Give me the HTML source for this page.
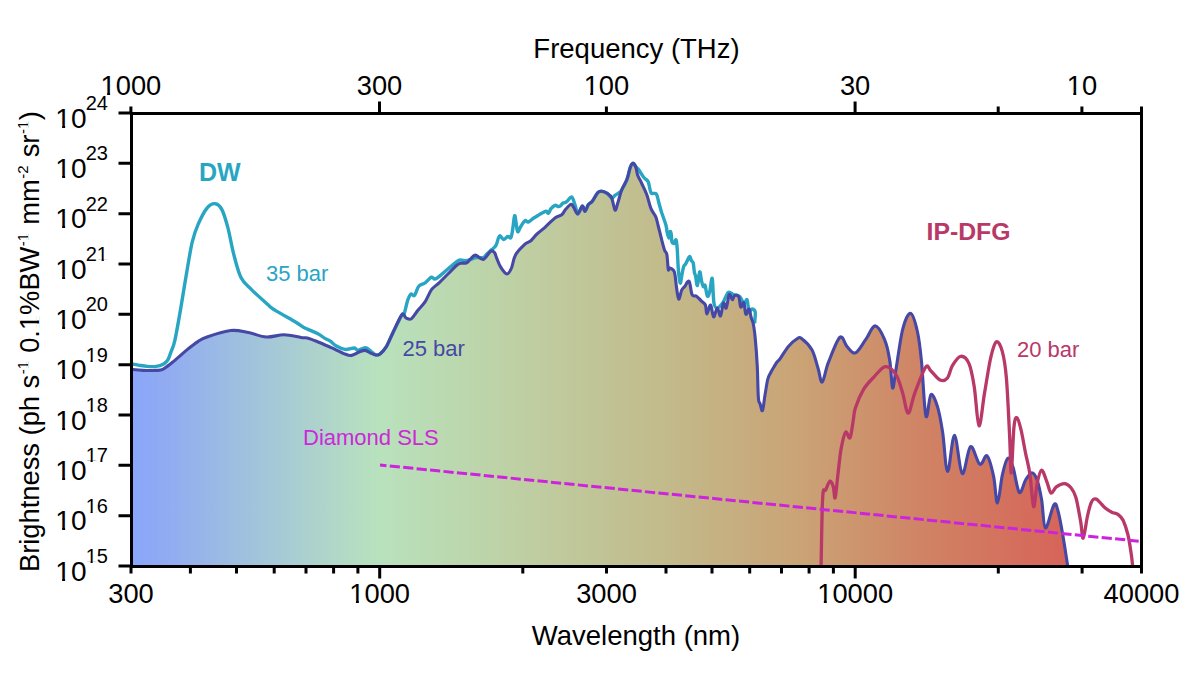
<!DOCTYPE html>
<html><head><meta charset="utf-8"><style>
html,body{margin:0;padding:0;background:#fff;width:1200px;height:675px;overflow:hidden}
svg{display:block;font-family:"Liberation Sans",sans-serif}
</style></head><body>
<svg width="1200" height="675" viewBox="0 0 1200 675">
<defs><linearGradient id="g" x1="131" y1="0" x2="1141" y2="0" gradientUnits="userSpaceOnUse">
<stop offset="0" stop-color="#88a6fa"/>
<stop offset="0.03" stop-color="#90aaf3"/>
<stop offset="0.128" stop-color="#a3c5da"/>
<stop offset="0.245" stop-color="#b8e2bd"/>
<stop offset="0.38" stop-color="#bed0a4"/>
<stop offset="0.524" stop-color="#c2bb8c"/>
<stop offset="0.663" stop-color="#caa375"/>
<stop offset="0.79" stop-color="#d08264"/>
<stop offset="0.91" stop-color="#d6675a"/>
<stop offset="1" stop-color="#d85a50"/>
</linearGradient>
<clipPath id="clip"><rect x="131" y="113" width="1010.5" height="453"/></clipPath></defs>
<rect width="1200" height="675" fill="#fff"/>
<g clip-path="url(#clip)">
<path d="M131,369.3 C133,369.5 138.6,370.2 142.8,370.4 C147,370.6 152.7,370.6 156.1,370.4 C159.5,370.2 160.2,370.7 163.2,369.1 C166.2,367.6 169.9,364.4 173.9,361.1 C177.9,357.9 183.2,352.9 187.2,349.6 C191.2,346.4 194.6,343.7 197.9,341.6 C201.2,339.5 201.5,338.9 207,337 C212.5,335.1 223.8,331.2 230.7,330.5 C237.6,329.8 242.6,331.5 248.5,332.6 C254.4,333.7 260.4,336.6 266.3,337 C272.2,337.4 278.3,334.6 284.1,334.7 C289.9,334.8 297.1,336.9 301,337.5 C304.9,338.1 304.6,337.3 307.4,338 C310.1,338.7 313.5,340.1 317.5,341.7 C321.5,343.3 326.7,345.6 331.3,347.6 C335.9,349.7 341.6,352.7 345,354 C348.4,355.3 349.1,355.8 351.5,355.4 C353.9,355 357.4,352.5 359.7,351.7 C362,350.9 363.4,350.2 365.2,350.4 C367,350.6 368.9,352.3 370.7,353.1 C372.5,353.9 374.6,354.9 376.2,355 C377.8,355.1 378.3,355.4 380,354 C381.7,352.6 384.2,350.2 386.3,346.7 C388.4,343.2 390.2,338.3 392.8,333 C395.4,327.7 399.6,317.4 401.9,314.9 C404.1,312.4 404.7,317.5 406.3,318.1 C407.9,318.7 409.5,320 411.4,318.7 C413.3,317.4 415.4,313.3 417.7,310.5 C420,307.7 422.9,305.2 425.2,301.7 C427.5,298.2 429.2,292.8 431.5,289.7 C433.8,286.6 436.4,285.4 439.1,282.8 C441.8,280.2 445,276.9 447.9,274 C450.8,271.1 454.6,267 456.7,265.2 C458.8,263.4 458.8,263.7 460.5,263.3 C462.2,262.9 465.1,263.4 466.8,262.7 C468.5,262 469.1,260.2 470.6,258.9 C472.1,257.6 473.5,255 475.6,255.1 C477.7,255.2 480.7,260.1 483.2,259.5 C485.7,258.9 488.8,252.5 490.7,251.3 C492.6,250.2 493.5,251.5 494.5,252.6 C495.5,253.7 495.6,255.5 496.6,257.9 C497.6,260.3 499,264.5 500.7,267.2 C502.4,269.9 505.2,273.9 507,274 C508.8,274.1 510.1,271.2 511.5,268 C512.9,264.8 513.2,258.9 515.5,254.9 C517.8,250.9 522.4,246.6 525,244.2 C527.6,241.8 528.9,242.4 530.9,240.7 C532.9,239 534.6,236.2 537,234 C539.4,231.8 542,230 545,227.3 C548,224.6 552.2,220.1 555,218 C557.8,215.9 559.9,216.1 561.7,214.7 C563.5,213.2 564.2,211 565.7,209.3 C567.2,207.6 569.7,204.6 571,204.3 C572.3,204 572.6,205.7 573.7,207.3 C574.8,208.9 576.3,214.2 577.7,214 C579.1,213.8 581.1,206.4 582.3,206 C583.5,205.6 584,211.5 585,211.3 C586,211.1 587.1,206.4 588.3,204.7 C589.5,203 590.7,203.3 592.3,201.3 C593.9,199.3 596.1,194.4 597.7,192.7 C599.3,191 600.2,191.2 601.7,191.3 C603.2,191.4 605.3,192.2 607,193.3 C608.7,194.4 610.4,195.2 611.7,198 C613,200.8 614,209.1 615,210 C616,210.9 616.6,206.6 617.7,203.3 C618.8,200 620.2,194 621.7,190 C623.2,186 625.6,183.1 627,179.3 C628.4,175.5 629.3,170 630.3,167.3 C631.3,164.6 632.1,163.4 633,163.3 C633.9,163.2 634.9,164.7 635.7,166.7 C636.5,168.7 636.7,172.5 637.7,175.3 C638.7,178.1 640.2,180 641.7,183.3 C643.2,186.6 645.5,191.1 647,195.3 C648.5,199.5 649.5,205.1 651,208.7 C652.5,212.3 654.5,214 655.7,216.7 C656.9,219.4 657,221.2 658,225 C659,228.8 660.6,235.6 661.7,239.8 C662.8,244 663.7,247.7 664.6,250.2 C665.5,252.7 666.3,251.5 666.9,254.7 C667.5,257.9 667.8,267.3 668.3,269.5 C668.8,271.7 668.8,267.6 669.8,268 C670.8,268.4 673.2,268.5 674.3,271.7 C675.4,274.9 675.8,282.7 676.5,287.3 C677.2,291.9 677.8,298.6 678.7,299.1 C679.6,299.6 680.7,292.3 681.7,290.2 C682.7,288.1 683.5,288 684.7,286.5 C685.9,285 687.9,279.9 689.1,281.3 C690.3,282.7 690.9,292.2 692.1,294.7 C693.3,297.2 695,295.2 696.5,296.2 C698,297.2 699.5,299.1 701,300.6 C702.5,302.1 704.4,302.8 705.4,305 C706.4,307.2 706,314 706.9,314 C707.8,314 709.5,304.5 710.6,305 C711.7,305.5 712.5,316.4 713.6,316.9 C714.7,317.4 716.1,308.1 717.3,308 C718.4,307.9 719.5,316.8 720.5,316 C721.5,315.2 722.5,304.3 723.5,303 C724.5,301.7 725.2,309.4 726.2,308 C727.2,306.6 728.3,295.9 729.3,294.5 C730.3,293.1 731.5,299.5 732.4,299.7 C733.3,299.9 733.5,296.1 734.5,295.6 C735.5,295.1 737.7,294.7 738.7,296.6 C739.7,298.5 739.9,306 740.7,307 C741.6,308 742.9,301.6 743.8,302.8 C744.7,304 745,313.2 745.9,314.2 C746.8,315.2 748.1,308.5 749,309 C749.9,309.5 750.4,314.9 751.1,317.3 C751.8,319.7 752.5,320.1 753.2,323.5 C753.9,326.9 754.5,330.8 755.2,338 C755.9,345.2 756.8,357 757.3,367 C757.8,377 757.9,391.9 758.4,398 C758.9,404.1 759.3,401.4 760,403.5 C760.7,405.6 761.7,412 762.5,410.6 C763.3,409.2 764.1,400.2 765,395 C765.9,389.8 766.8,383.2 767.7,379.5 C768.6,375.8 769.5,375.1 770.5,373 C771.5,370.9 772.8,368.8 773.9,367 C775,365.2 776,363.4 777,362 C778,360.6 778.1,361.4 780,358.8 C781.9,356.2 785.6,349.7 788.4,346.4 C791.2,343.1 794.5,340.3 796.7,339 C798.9,337.7 799,336.6 801.5,338.4 C804,340.2 809.1,344.8 811.9,349.8 C814.7,354.8 816.4,363.1 818.1,368.5 C819.8,373.9 820.5,383.1 822.2,382 C823.9,380.9 825.5,369.6 828.5,362.2 C831.5,354.8 836.8,339.9 839.9,337.3 C843,334.7 844.5,344.1 847.1,346.7 C849.7,349.3 852.3,354.1 855.4,352.9 C858.5,351.7 862.5,343.9 865.8,339.4 C869.1,334.9 872,325.9 875.1,325.9 C878.2,325.9 882.1,333.7 884.5,339.4 C886.9,345.1 888.4,352.1 889.7,360.2 C891.1,368.3 891.6,386.5 892.6,388 C893.6,389.5 894.3,379.1 896,369.3 C897.7,359.5 900.3,338.6 902.7,329.3 C905.1,320 908.1,312.9 910.6,313.4 C913.1,313.8 915.7,324 917.5,332 C919.3,340 920.1,347.3 921.5,361.3 C922.9,375.3 924.3,410.4 925.9,416 C927.5,421.6 929,396.2 930.9,394.6 C932.8,393.1 935.5,400.5 937.5,406.7 C939.5,412.9 940.9,421.2 942.6,432 C944.3,442.8 945.6,471 947.6,471.5 C949.6,472 952.1,434.8 954.5,435.2 C956.9,435.6 959.5,471.7 962.2,473.6 C964.9,475.5 967.6,448.2 970.5,446.6 C973.4,445 977,462.6 979.8,464.2 C982.6,465.8 984.8,453.9 987.1,455.9 C989.4,457.9 991.9,468.5 993.6,476.4 C995.3,484.3 996,503.4 997.5,503.1 C999,502.8 1000.7,482.2 1002.4,474.7 C1004.1,467.2 1006,459.5 1007.8,458.3 C1009.6,457.1 1011.2,461.9 1013.1,467.6 C1015,473.3 1017.2,490.3 1019.3,492.4 C1021.4,494.5 1023.5,483.3 1025.6,480 C1027.7,476.7 1029.9,472.7 1031.8,472.7 C1033.7,472.7 1035.5,475.5 1037.1,480 C1038.7,484.5 1040.2,491.6 1041.6,499.6 C1043,507.6 1043.4,527.1 1045.4,528 C1047.5,528.9 1051.8,507.7 1053.9,504.8 C1056,501.9 1056.4,505.5 1057.9,510.5 C1059.4,515.5 1061.2,525.8 1062.8,535 C1064.4,544.2 1066.9,560.8 1067.7,566 L1067.7,566 L131,566 Z" fill="url(#g)"/>
<path d="M131,363.8 C132.2,364 135.6,364.7 138.3,365.1 C141,365.5 144.2,366.2 147.2,366.4 C150.2,366.6 153.4,366.8 156.1,366.4 C158.8,366 161.3,365.2 163.2,364.2 C165.1,363.2 166.4,362.3 167.7,360.2 C169,358.1 170,354.6 171.2,351.3 C172.4,348.1 173.3,347.5 174.8,340.7 C176.3,333.9 178.5,321.4 180.4,310.4 C182.3,299.4 184.3,286.2 186.3,274.8 C188.3,263.4 190.2,250.6 192.2,242.2 C194.2,233.8 195.6,230.1 198.1,224.4 C200.6,218.7 204.1,211.6 207,208.1 C209.9,204.6 212.8,203.4 215.3,203.7 C217.8,203.9 219.8,205.6 221.9,209.6 C224,213.6 225.8,220 227.8,227.4 C229.8,234.8 231.5,245.7 233.7,254.1 C235.9,262.5 238.1,271.9 241.1,277.8 C244.1,283.7 246.8,284.9 251.5,289.6 C256.2,294.3 265.4,302.4 269.3,305.9 C273.2,309.4 270.8,307.7 275.2,310.4 C279.6,313.1 291.1,319.4 295.9,322.2 C300.7,325 300.2,325.5 303.8,327.4 C307.4,329.3 314,331.6 317.5,333.4 C321,335.2 322.8,337.1 324.9,338.4 C327,339.7 328.6,340 330.4,341.2 C332.2,342.4 333.5,344.4 335.9,345.8 C338.3,347.2 341.9,349 345,349.4 C348.1,349.8 352.1,347.8 354.2,348 C356.3,348.2 356.1,350.5 357.9,350.4 C359.7,350.3 363.2,347.6 365.2,347.6 C367.2,347.6 368.6,349.5 369.8,350.4 C371,351.2 371.5,351.9 372.6,352.7 C373.7,353.5 375,354.8 376.2,355 C377.4,355.2 378.3,355.4 380,354 C381.7,352.6 384.2,350.2 386.3,346.7 C388.4,343.2 390.2,338.3 392.8,333 C395.4,327.7 400,318.2 401.9,314.9 C403.8,311.6 403.4,315.4 404.4,313 C405.3,310.6 406.6,303.6 407.6,300.5 C408.7,297.4 409.6,295.1 410.7,294.2 C411.8,293.3 413.1,296.8 414.5,295.4 C415.9,294 417.1,288.1 418.9,286 C420.7,283.9 423.1,284.3 425.2,282.8 C427.3,281.3 429.8,277.8 431.5,277.2 C433.2,276.6 433.4,279.6 435.3,279 C437.2,278.4 440.2,275.6 442.9,273.4 C445.6,271.2 449,268 451.7,265.8 C454.4,263.6 456.9,261 459.2,260.2 C461.5,259.4 463.6,260.9 465.5,260.8 C467.4,260.7 468.9,260.1 470.6,259.5 C472.4,258.9 473.9,257.8 476,257.5 C478.1,257.2 481.3,258.2 483.2,257.6 C485.1,257 485.7,255 487.1,253.7 C488.5,252.4 490.3,251 491.8,249.6 C493.3,248.2 494.7,247.7 496,245.4 C497.3,243.1 498.2,237 499.5,236 C500.8,235 502.3,239.4 503.7,239.5 C505.1,239.6 506.6,236.8 507.8,236.5 C509,236.2 510,238.8 510.8,237.7 C511.6,236.6 512,233.7 512.6,230 C513.2,226.3 514,217 514.6,215.8 C515.2,214.6 515.6,220.2 516.1,222.9 C516.6,225.6 516.9,231.3 517.7,231.8 C518.5,232.3 519.8,227.8 521,226 C522.2,224.2 523.8,221.4 525,220.7 C526.2,220 526.8,222.4 528.3,222 C529.8,221.6 532.2,219 533.7,218 C535.2,217 536.2,216.6 537.5,215.8 C538.8,215 540.2,214.1 541.7,213.3 C543.2,212.6 545.2,211.3 546.3,211.3 C547.4,211.3 547.5,213.7 548.3,213.3 C549.1,212.9 549.9,210 551,208.7 C552.1,207.4 553.8,205.7 555,205.3 C556.2,204.9 557.1,206.4 558,206.5 C558.9,206.6 559.5,206.6 560.3,206 C561.1,205.4 562.1,203.6 563,203 C563.9,202.4 564.7,202.9 565.5,202.5 C566.3,202.1 566.7,201.6 567.7,200.7 C568.7,199.8 570.5,196.3 571.7,197 C572.9,197.7 574,201.9 575,204.7 C576,207.5 576.8,213.8 578,214 C579.2,214.2 581.1,206.4 582.3,206 C583.5,205.6 584,211.5 585,211.3 C586,211.1 587.1,206.4 588.3,204.7 C589.5,203 590.7,203.3 592.3,201.3 C593.9,199.3 596.1,194.4 597.7,192.7 C599.3,191 600.2,191.2 601.7,191.3 C603.2,191.4 605.3,192.2 607,193.3 C608.7,194.4 610.4,197.7 611.7,198 C613,198.3 613.8,196.2 615,195.3 C616.2,194.4 617.9,193.6 619,192.7 C620.1,191.8 620.4,192.2 621.7,190 C623,187.8 625.6,183.1 627,179.3 C628.4,175.5 629.3,170 630.3,167.3 C631.3,164.6 632,163.4 633,163.3 C634,163.2 635,165.9 636,167 C637,168.1 638.2,168.9 639,170 C639.8,171.1 640.1,172 641,173.3 C641.9,174.6 643.1,176.6 644.3,178 C645.5,179.4 647.2,179.6 648.3,182 C649.4,184.4 649.7,190.7 651,192.7 C652.3,194.7 655,192.2 656.3,194 C657.6,195.8 658.1,200.2 659,203.3 C659.9,206.4 660.6,209.1 661.7,212.7 C662.9,216.3 665,221.8 665.9,225 C666.8,228.2 666.6,229.9 667.1,232.1 C667.6,234.3 668.4,238.1 668.9,238 C669.4,237.9 669.7,232.1 670.1,231.5 C670.5,230.9 671,232.8 671.3,234.5 C671.6,236.2 671.4,240.1 671.9,241.6 C672.4,243.1 673.5,243.7 674.2,243.4 C674.9,243.1 675.5,238.9 676,239.8 C676.5,240.7 676.8,243.6 677.2,248.7 C677.6,253.8 677.9,264.4 678.4,270.1 C678.9,275.8 679.6,282.3 680.2,283.1 C680.8,283.9 681.3,277.6 681.9,274.8 C682.5,272 683.1,268.3 683.7,266.5 C684.3,264.7 684.9,265.1 685.5,264.1 C686.1,263.1 686.6,261.9 687.3,260.6 C688,259.3 689,256.4 689.7,256.4 C690.4,256.4 690.8,259.5 691.4,260.6 C692,261.7 692.7,261 693.2,263 C693.7,265 694,270.2 694.4,272.4 C694.8,274.6 695.1,273.8 695.6,276 C696.1,278.2 696.7,286.2 697.4,285.5 C698.1,284.8 699,272.7 699.7,271.9 C700.4,271.1 700.9,278.3 701.5,280.8 C702.1,283.3 702.7,285.9 703.3,286.7 C703.9,287.5 704.4,283.9 705.1,285.5 C705.8,287.1 706.6,295.2 707.4,296.2 C708.2,297.2 709,294.4 709.8,291.4 C710.6,288.4 711.5,276.4 712.2,278.4 C712.9,280.4 713.1,298.4 714,303.3 C714.9,308.2 715.8,308.2 717.3,308 C718.8,307.8 721.4,304.7 723.2,302.1 C725,299.5 726.6,293.7 728.3,292.4 C730,291.1 731.6,293.8 733.5,294.5 C735.4,295.2 738,295.1 739.7,296.6 C741.5,298.1 742.8,303.1 744,303.6 C745.2,304.1 746.2,298.5 747,299.7 C747.8,300.9 748.2,309.4 749,311 C749.8,312.6 751,308.8 752,309 C753,309.2 754.8,309.6 755.2,312 C755.6,314.4 754.7,321.6 754.6,323.5" fill="none" stroke="#28a5c2" stroke-width="3.4" stroke-linejoin="round"/>
<path d="M131,369.3 C133,369.5 138.6,370.2 142.8,370.4 C147,370.6 152.7,370.6 156.1,370.4 C159.5,370.2 160.2,370.7 163.2,369.1 C166.2,367.6 169.9,364.4 173.9,361.1 C177.9,357.9 183.2,352.9 187.2,349.6 C191.2,346.4 194.6,343.7 197.9,341.6 C201.2,339.5 201.5,338.9 207,337 C212.5,335.1 223.8,331.2 230.7,330.5 C237.6,329.8 242.6,331.5 248.5,332.6 C254.4,333.7 260.4,336.6 266.3,337 C272.2,337.4 278.3,334.6 284.1,334.7 C289.9,334.8 297.1,336.9 301,337.5 C304.9,338.1 304.6,337.3 307.4,338 C310.1,338.7 313.5,340.1 317.5,341.7 C321.5,343.3 326.7,345.6 331.3,347.6 C335.9,349.7 341.6,352.7 345,354 C348.4,355.3 349.1,355.8 351.5,355.4 C353.9,355 357.4,352.5 359.7,351.7 C362,350.9 363.4,350.2 365.2,350.4 C367,350.6 368.9,352.3 370.7,353.1 C372.5,353.9 374.6,354.9 376.2,355 C377.8,355.1 378.3,355.4 380,354 C381.7,352.6 384.2,350.2 386.3,346.7 C388.4,343.2 390.2,338.3 392.8,333 C395.4,327.7 399.6,317.4 401.9,314.9 C404.1,312.4 404.7,317.5 406.3,318.1 C407.9,318.7 409.5,320 411.4,318.7 C413.3,317.4 415.4,313.3 417.7,310.5 C420,307.7 422.9,305.2 425.2,301.7 C427.5,298.2 429.2,292.8 431.5,289.7 C433.8,286.6 436.4,285.4 439.1,282.8 C441.8,280.2 445,276.9 447.9,274 C450.8,271.1 454.6,267 456.7,265.2 C458.8,263.4 458.8,263.7 460.5,263.3 C462.2,262.9 465.1,263.4 466.8,262.7 C468.5,262 469.1,260.2 470.6,258.9 C472.1,257.6 473.5,255 475.6,255.1 C477.7,255.2 480.7,260.1 483.2,259.5 C485.7,258.9 488.8,252.5 490.7,251.3 C492.6,250.2 493.5,251.5 494.5,252.6 C495.5,253.7 495.6,255.5 496.6,257.9 C497.6,260.3 499,264.5 500.7,267.2 C502.4,269.9 505.2,273.9 507,274 C508.8,274.1 510.1,271.2 511.5,268 C512.9,264.8 513.2,258.9 515.5,254.9 C517.8,250.9 522.4,246.6 525,244.2 C527.6,241.8 528.9,242.4 530.9,240.7 C532.9,239 534.6,236.2 537,234 C539.4,231.8 542,230 545,227.3 C548,224.6 552.2,220.1 555,218 C557.8,215.9 559.9,216.1 561.7,214.7 C563.5,213.2 564.2,211 565.7,209.3 C567.2,207.6 569.7,204.6 571,204.3 C572.3,204 572.6,205.7 573.7,207.3 C574.8,208.9 576.3,214.2 577.7,214 C579.1,213.8 581.1,206.4 582.3,206 C583.5,205.6 584,211.5 585,211.3 C586,211.1 587.1,206.4 588.3,204.7 C589.5,203 590.7,203.3 592.3,201.3 C593.9,199.3 596.1,194.4 597.7,192.7 C599.3,191 600.2,191.2 601.7,191.3 C603.2,191.4 605.3,192.2 607,193.3 C608.7,194.4 610.4,195.2 611.7,198 C613,200.8 614,209.1 615,210 C616,210.9 616.6,206.6 617.7,203.3 C618.8,200 620.2,194 621.7,190 C623.2,186 625.6,183.1 627,179.3 C628.4,175.5 629.3,170 630.3,167.3 C631.3,164.6 632.1,163.4 633,163.3 C633.9,163.2 634.9,164.7 635.7,166.7 C636.5,168.7 636.7,172.5 637.7,175.3 C638.7,178.1 640.2,180 641.7,183.3 C643.2,186.6 645.5,191.1 647,195.3 C648.5,199.5 649.5,205.1 651,208.7 C652.5,212.3 654.5,214 655.7,216.7 C656.9,219.4 657,221.2 658,225 C659,228.8 660.6,235.6 661.7,239.8 C662.8,244 663.7,247.7 664.6,250.2 C665.5,252.7 666.3,251.5 666.9,254.7 C667.5,257.9 667.8,267.3 668.3,269.5 C668.8,271.7 668.8,267.6 669.8,268 C670.8,268.4 673.2,268.5 674.3,271.7 C675.4,274.9 675.8,282.7 676.5,287.3 C677.2,291.9 677.8,298.6 678.7,299.1 C679.6,299.6 680.7,292.3 681.7,290.2 C682.7,288.1 683.5,288 684.7,286.5 C685.9,285 687.9,279.9 689.1,281.3 C690.3,282.7 690.9,292.2 692.1,294.7 C693.3,297.2 695,295.2 696.5,296.2 C698,297.2 699.5,299.1 701,300.6 C702.5,302.1 704.4,302.8 705.4,305 C706.4,307.2 706,314 706.9,314 C707.8,314 709.5,304.5 710.6,305 C711.7,305.5 712.5,316.4 713.6,316.9 C714.7,317.4 716.1,308.1 717.3,308 C718.4,307.9 719.5,316.8 720.5,316 C721.5,315.2 722.5,304.3 723.5,303 C724.5,301.7 725.2,309.4 726.2,308 C727.2,306.6 728.3,295.9 729.3,294.5 C730.3,293.1 731.5,299.5 732.4,299.7 C733.3,299.9 733.5,296.1 734.5,295.6 C735.5,295.1 737.7,294.7 738.7,296.6 C739.7,298.5 739.9,306 740.7,307 C741.6,308 742.9,301.6 743.8,302.8 C744.7,304 745,313.2 745.9,314.2 C746.8,315.2 748.1,308.5 749,309 C749.9,309.5 750.4,314.9 751.1,317.3 C751.8,319.7 752.5,320.1 753.2,323.5 C753.9,326.9 754.5,330.8 755.2,338 C755.9,345.2 756.8,357 757.3,367 C757.8,377 757.9,391.9 758.4,398 C758.9,404.1 759.3,401.4 760,403.5 C760.7,405.6 761.7,412 762.5,410.6 C763.3,409.2 764.1,400.2 765,395 C765.9,389.8 766.8,383.2 767.7,379.5 C768.6,375.8 769.5,375.1 770.5,373 C771.5,370.9 772.8,368.8 773.9,367 C775,365.2 776,363.4 777,362 C778,360.6 778.1,361.4 780,358.8 C781.9,356.2 785.6,349.7 788.4,346.4 C791.2,343.1 794.5,340.3 796.7,339 C798.9,337.7 799,336.6 801.5,338.4 C804,340.2 809.1,344.8 811.9,349.8 C814.7,354.8 816.4,363.1 818.1,368.5 C819.8,373.9 820.5,383.1 822.2,382 C823.9,380.9 825.5,369.6 828.5,362.2 C831.5,354.8 836.8,339.9 839.9,337.3 C843,334.7 844.5,344.1 847.1,346.7 C849.7,349.3 852.3,354.1 855.4,352.9 C858.5,351.7 862.5,343.9 865.8,339.4 C869.1,334.9 872,325.9 875.1,325.9 C878.2,325.9 882.1,333.7 884.5,339.4 C886.9,345.1 888.4,352.1 889.7,360.2 C891.1,368.3 891.6,386.5 892.6,388 C893.6,389.5 894.3,379.1 896,369.3 C897.7,359.5 900.3,338.6 902.7,329.3 C905.1,320 908.1,312.9 910.6,313.4 C913.1,313.8 915.7,324 917.5,332 C919.3,340 920.1,347.3 921.5,361.3 C922.9,375.3 924.3,410.4 925.9,416 C927.5,421.6 929,396.2 930.9,394.6 C932.8,393.1 935.5,400.5 937.5,406.7 C939.5,412.9 940.9,421.2 942.6,432 C944.3,442.8 945.6,471 947.6,471.5 C949.6,472 952.1,434.8 954.5,435.2 C956.9,435.6 959.5,471.7 962.2,473.6 C964.9,475.5 967.6,448.2 970.5,446.6 C973.4,445 977,462.6 979.8,464.2 C982.6,465.8 984.8,453.9 987.1,455.9 C989.4,457.9 991.9,468.5 993.6,476.4 C995.3,484.3 996,503.4 997.5,503.1 C999,502.8 1000.7,482.2 1002.4,474.7 C1004.1,467.2 1006,459.5 1007.8,458.3 C1009.6,457.1 1011.2,461.9 1013.1,467.6 C1015,473.3 1017.2,490.3 1019.3,492.4 C1021.4,494.5 1023.5,483.3 1025.6,480 C1027.7,476.7 1029.9,472.7 1031.8,472.7 C1033.7,472.7 1035.5,475.5 1037.1,480 C1038.7,484.5 1040.2,491.6 1041.6,499.6 C1043,507.6 1043.4,527.1 1045.4,528 C1047.5,528.9 1051.8,507.7 1053.9,504.8 C1056,501.9 1056.4,505.5 1057.9,510.5 C1059.4,515.5 1061.2,525.8 1062.8,535 C1064.4,544.2 1066.9,560.8 1067.7,566" fill="none" stroke="#4648a6" stroke-width="3.1" stroke-linejoin="round"/>
<path d="M821.1,566 C821.3,556.5 821.8,521.4 822.2,508.9 C822.6,496.4 822.7,494.2 823.3,491.1 C823.9,488 824.5,491.7 825.6,490 C826.7,488.3 828.7,481.7 830,481.1 C831.3,480.6 832.4,483.9 833.3,486.7 C834.1,489.5 834.4,499.6 835.1,497.8 C835.9,496 836.8,483.8 837.8,475.6 C838.8,467.5 839.8,456.1 841.1,448.9 C842.4,441.7 844.1,434 845.6,432.2 C847.1,430.4 848.7,439.8 850,437.8 C851.3,435.8 852.4,425 853.3,420 C854.2,415 853.7,413 855.4,407.9 C857.1,402.8 860.6,394.4 863.7,389.2 C866.8,384 870.5,380.6 874.1,376.8 C877.7,373 881.8,367 885.4,366.6 C889,366.2 893.1,370.2 896,374.7 C898.9,379.1 900.7,386.9 902.7,393.3 C904.7,399.7 906.2,413.2 908.2,413.2 C910.2,413.2 911.8,401 914.7,393.3 C917.6,385.6 922.9,371 925.6,367.2 C928.3,363.4 928.3,368.6 930.7,370.7 C933.1,372.8 937.2,378.8 940,380 C942.8,381.2 945.2,380.5 947.3,378.1 C949.4,375.7 950.2,369.2 952.4,365.6 C954.6,362 957.9,356.6 960.7,356.3 C963.5,356 966.8,358.6 969,363.6 C971.2,368.6 972.5,376 974.2,386.4 C975.9,396.8 977.3,424.8 979,425.8 C980.7,426.8 982.6,404 984.6,392.6 C986.6,381.2 988.8,365.8 990.8,357.3 C992.8,348.8 994.5,342.8 996.4,341.8 C998.3,340.8 1000.5,345.1 1002.2,351.1 C1003.9,357.2 1005.2,364 1006.4,378.1 C1007.6,392.2 1008.8,419.8 1009.6,435.6 C1010.4,451.4 1010.6,474.4 1011.3,472.9 C1012,471.4 1013,435.9 1014,426.7 C1015,417.5 1015.8,417.2 1017,417.8 C1018.2,418.4 1019.7,424.3 1021.1,430.2 C1022.5,436.1 1024.1,445.9 1025.6,453.3 C1027.1,460.7 1028.7,465.8 1030,474.7 C1031.3,483.6 1032.4,505.2 1033.6,506.7 C1034.8,508.2 1035.8,489.7 1037.1,483.6 C1038.4,477.5 1040,470.5 1041.6,470.2 C1043.2,469.9 1045.3,478 1046.9,481.8 C1048.5,485.6 1049.4,492.1 1051,493 C1052.6,493.9 1054.1,488.5 1056.3,486.9 C1058.5,485.3 1062,483.5 1064.4,483.6 C1066.9,483.7 1069.1,485.4 1071,487.7 C1072.9,490 1074.3,491.8 1075.9,497.5 C1077.5,503.2 1079.5,515.1 1080.7,521.9 C1081.9,528.7 1082.1,539 1083.2,538.2 C1084.3,537.4 1086,523 1087.3,517 C1088.6,511 1089.8,505.4 1091.3,502.4 C1092.8,499.4 1093.9,498.2 1096.2,499.1 C1098.5,500.1 1102.6,505.9 1105.2,508.1 C1107.8,510.3 1109.5,511.1 1111.7,512.2 C1113.9,513.3 1116.3,513.2 1118.2,514.6 C1120.1,516 1121.5,516.9 1123.1,520.3 C1124.7,523.7 1126.6,529.3 1128,535 C1129.4,540.7 1130.5,549.3 1131.3,554.5 C1132.1,559.7 1132.4,564.1 1132.6,566" fill="none" stroke="#b83868" stroke-width="3.3" stroke-linejoin="round"/>
<path d="M380,465 L1141.5,541.5" fill="none" stroke="#cc24dc" stroke-width="3" stroke-dasharray="10.2 3.3" stroke-dashoffset="3.7"/>
</g>
<rect x="131.5" y="113.5" width="1010" height="453" fill="none" stroke="#000" stroke-width="3"/>
<path d="M131,566.5 v7 M190.4,566.5 v7 M236.5,566.5 v7 M274.2,566.5 v7 M306,566.5 v7 M333.6,566.5 v7 M357.9,566.5 v7 M379.7,566.5 v12 M522.8,566.5 v7 M606.5,566.5 v7 M666,566.5 v7 M712,566.5 v7 M749.7,566.5 v7 M781.5,566.5 v7 M809.1,566.5 v7 M833.4,566.5 v7 M855.2,566.5 v12 M998.3,566.5 v7 M1082.1,566.5 v7 M1141.5,566.5 v7 M130.9,113.5 v-7 M379.5,113.5 v-12 M606.4,113.5 v-7 M855.1,113.5 v-12 M998.2,113.5 v-7 M1081.9,113.5 v-7 M1141.5,113.5 v-7 M131.5,566 h-13 M131.5,515.7 h-13 M131.5,465.3 h-13 M131.5,415 h-13 M131.5,364.7 h-13 M131.5,314.3 h-13 M131.5,264 h-13 M131.5,213.7 h-13 M131.5,163.3 h-13 M131.5,113 h-13" stroke="#000" stroke-width="3" fill="none"/>
<g font-family="'Liberation Sans', sans-serif" fill="#000"><text x="131" y="603" text-anchor="middle" font-size="27.3">300</text>
<text x="379.7" y="603" text-anchor="middle" font-size="27.3">1000</text>
<text x="606.5" y="603" text-anchor="middle" font-size="27.3">3000</text>
<text x="855.2" y="603" text-anchor="middle" font-size="27.3">10000</text>
<text x="1141.5" y="603" text-anchor="middle" font-size="27.3">40000</text>
<text x="130.9" y="95" text-anchor="middle" font-size="27.3">1000</text>
<text x="379.5" y="95" text-anchor="middle" font-size="27.3">300</text>
<text x="606.4" y="95" text-anchor="middle" font-size="27.3">100</text>
<text x="855.1" y="95" text-anchor="middle" font-size="27.3">30</text>
<text x="1081.9" y="95" text-anchor="middle" font-size="27.3">10</text>
<text x="636" y="645" text-anchor="middle" font-size="27.5">Wavelength (nm)</text>
<text x="636.5" y="58" text-anchor="middle" font-size="27.5">Frequency (THz)</text>
<text x="86.5" y="580.5" text-anchor="end" font-size="28">10</text>
<text x="85.7" y="563" font-size="20">15</text>
<text x="86.5" y="530.2" text-anchor="end" font-size="28">10</text>
<text x="85.7" y="512.7" font-size="20">16</text>
<text x="86.5" y="479.8" text-anchor="end" font-size="28">10</text>
<text x="85.7" y="462.3" font-size="20">17</text>
<text x="86.5" y="429.5" text-anchor="end" font-size="28">10</text>
<text x="85.7" y="412" font-size="20">18</text>
<text x="86.5" y="379.2" text-anchor="end" font-size="28">10</text>
<text x="85.7" y="361.7" font-size="20">19</text>
<text x="86.5" y="328.8" text-anchor="end" font-size="28">10</text>
<text x="85.7" y="311.3" font-size="20">20</text>
<text x="86.5" y="278.5" text-anchor="end" font-size="28">10</text>
<text x="85.7" y="261" font-size="20">21</text>
<text x="86.5" y="228.2" text-anchor="end" font-size="28">10</text>
<text x="85.7" y="210.7" font-size="20">22</text>
<text x="86.5" y="177.8" text-anchor="end" font-size="28">10</text>
<text x="85.7" y="160.3" font-size="20">23</text>
<text x="86.5" y="127.5" text-anchor="end" font-size="28">10</text>
<text x="85.7" y="110" font-size="20">24</text>
<text transform="translate(38.7,572) rotate(-90)" font-size="27.3">Brightness (ph s<tspan font-size="15" dy="-11" dx="0.5">-1</tspan><tspan dy="11" dx="0.5"> 0.1%BW</tspan><tspan font-size="15" dy="-11" dx="0.5">-1</tspan><tspan dy="11" dx="0.5"> mm</tspan><tspan font-size="15" dy="-11" dx="0.5">-2</tspan><tspan dy="11" dx="0.5"> sr</tspan><tspan font-size="15" dy="-11" dx="0.5">-1</tspan><tspan dy="11" dx="0.5">)</tspan></text>
<text x="199" y="181" font-size="25" font-weight="bold" fill="#28a5c2">DW</text>
<text x="266" y="280.5" font-size="22" fill="#28a5c2">35 bar</text>
<text x="402.5" y="356" font-size="22" fill="#4648a6">25 bar</text>
<text x="926.5" y="240" font-size="24.8" font-weight="bold" fill="#b83868">IP-DFG</text>
<text x="1017" y="356.5" font-size="22" fill="#b83868">20 bar</text>
<text x="303" y="445" font-size="22" fill="#cc28d8">Diamond SLS</text></g>
<path d="M350.48,600.69h5.45v3.24h-5.45z M358.88,600.69h5.24v3.24h-5.24z M818.39,600.69h5.45v3.24h-5.45z M826.79,600.69h5.24v3.24h-5.24z M101.68,92.69h5.45v3.24h-5.45z M110.08,92.69h5.24v3.24h-5.24z M584.77,92.69h5.45v3.24h-5.45z M593.17,92.69h5.24v3.24h-5.24z M1067.86,92.69h5.45v3.24h-5.45z M1076.26,92.69h5.24v3.24h-5.24z M56.52,578.13h5.59v3.32h-5.59z M65.13,578.13h5.37v3.32h-5.37z M86.54,561.31h3.99v2.37h-3.99z M92.69,561.31h3.84v2.37h-3.84z M56.52,527.83h5.59v3.32h-5.59z M65.13,527.83h5.37v3.32h-5.37z M86.54,511.01h3.99v2.37h-3.99z M92.69,511.01h3.84v2.37h-3.84z M56.52,477.43h5.59v3.32h-5.59z M65.13,477.43h5.37v3.32h-5.37z M86.54,460.61h3.99v2.37h-3.99z M92.69,460.61h3.84v2.37h-3.84z M56.52,427.13h5.59v3.32h-5.59z M65.13,427.13h5.37v3.32h-5.37z M86.54,410.31h3.99v2.37h-3.99z M92.69,410.31h3.84v2.37h-3.84z M56.52,376.83h5.59v3.32h-5.59z M65.13,376.83h5.37v3.32h-5.37z M86.54,360.01h3.99v2.37h-3.99z M92.69,360.01h3.84v2.37h-3.84z M56.52,326.43h5.59v3.32h-5.59z M65.13,326.43h5.37v3.32h-5.37z M56.52,276.13h5.59v3.32h-5.59z M65.13,276.13h5.37v3.32h-5.37z M97.65,259.31h3.99v2.37h-3.99z M103.80,259.31h3.84v2.37h-3.84z M56.52,225.83h5.59v3.32h-5.59z M65.13,225.83h5.37v3.32h-5.37z M56.52,175.43h5.59v3.32h-5.59z M65.13,175.43h5.37v3.32h-5.37z M56.52,125.13h5.59v3.32h-5.59z M65.13,125.13h5.37v3.32h-5.37z" fill="#fff"/>
<path transform="translate(38.7,572) rotate(-90)" d="M203.36,-12.27h3.00v1.78h-3.00z M207.98,-12.27h2.88v1.78h-2.88z M243.08,-2.31h5.45v3.24h-5.45z M251.48,-2.31h5.24v3.24h-5.24z M331.49,-12.27h3.00v1.78h-3.00z M336.10,-12.27h2.88v1.78h-2.88z M443.57,-12.27h3.00v1.78h-3.00z M448.18,-12.27h2.88v1.78h-2.88z" fill="#fff"/>
</svg>
</body></html>
